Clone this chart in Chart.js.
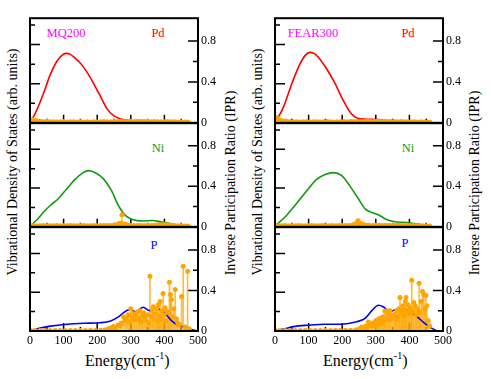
<!DOCTYPE html>
<html>
<head>
<meta charset="utf-8">
<script src="https://cdn.jsdelivr.net/npm/chart.js@4.4.1/dist/chart.umd.min.js"></script>
<style>
  html, body { margin: 0; padding: 0; background: #fff; }
  #wrap { position: relative; width: 491px; height: 379px; overflow: hidden; font-family: "Liberation Serif", "Times New Roman", serif; }
  canvas { position: absolute; }
  .t { position: absolute; white-space: nowrap; line-height: 1; transform: translate(-50%, -50%); }
  .rot { transform: translate(-50%, -50%) rotate(-90deg); }
  .lab { font-size: 12.5px; }
  .side { font-size: 14px; }
  .en { position: absolute; white-space: nowrap; line-height: 1; font-size: 16px; transform: translateY(-50%); }
  .en sup { font-size: 10px; vertical-align: baseline; position: relative; top: -7px; }
</style>
</head>
<body>
<div id="wrap">
  <div class="t side rot" style="left:13px; top:162px;">Vibrational Density of States (arb. units)</div>
  <div class="t side rot" style="left:231px; top:183px;">Inverse Participation Ratio (IPR)</div>
  <div class="t side rot" style="left:258px; top:162px;">Vibrational Density of States (arb. units)</div>
  <div class="t side rot" style="left:475px; top:183px;">Inverse Participation Ratio (IPR)</div>

  <div class="t lab" style="left:66px; top:33px; color:#ff00ff;">MQ200</div>
  <div class="t lab" style="left:158px; top:33px; color:#ff0000;">Pd</div>
  <div class="t lab" style="left:158px; top:148px; color:#129a12;">Ni</div>
  <div class="t lab" style="left:154px; top:245px; color:#0000ff;">P</div>

  <div class="t lab" style="left:313px; top:33px; color:#ff00ff;">FEAR300</div>
  <div class="t lab" style="left:408px; top:33px; color:#ff0000;">Pd</div>
  <div class="t lab" style="left:408px; top:148px; color:#129a12;">Ni</div>
  <div class="t lab" style="left:405px; top:243px; color:#0000ff;">P</div>

  <div class="en" style="left:85px; top:361px;">Energy(cm<sup>-1</sup>)</div>
  <div class="en" style="left:323px; top:361px;">Energy(cm<sup>-1</sup>)</div>
</div>
<script>
//AXIS TICKS
const energyTicks = [0, 100, 200, 300, 400, 500];
const energyMinor = [50, 150, 250, 350, 450];
const iprTicks = [0, 0.4, 0.8];
const iprMinor = [0.2, 0.6];
const vdosMajor = [0.4, 0.8];
const vdosMinor = [0.2, 0.6, 1.0];

//VDOS CURVES [energy, value]
const vdosPdMQ = [[0,0.02],[10,0.06],[20,0.13],[40,0.30],[60,0.49],[80,0.63],[95,0.69],[107,0.71],[120,0.70],[132,0.67],[155,0.59],[180,0.46],[205,0.30],[230,0.14],[250,0.07],[275,0.035],[305,0.02],[335,0.02],[360,0.01],[400,0.005],[440,0.003],[470,0]];
const vdosNiMQ = [[0,0.005],[20,0.07],[40,0.15],[60,0.22],[84,0.29],[109,0.39],[134,0.49],[154,0.55],[174,0.58],[196,0.555],[220,0.49],[243,0.37],[263,0.22],[283,0.12],[305,0.075],[335,0.06],[365,0.065],[390,0.05],[417,0.035],[437,0.015],[455,0.003],[470,0]];
const vdosPMQ = [[0,0],[30,0.03],[60,0.05],[110,0.07],[160,0.08],[208,0.085],[238,0.1],[263,0.145],[283,0.2],[296,0.22],[315,0.2],[337,0.245],[355,0.21],[375,0.235],[400,0.19],[420,0.11],[441,0.06],[461,0.04],[486,0.01],[500,0]];

const vdosPdFE = [[0,0.01],[12,0.07],[25,0.16],[50,0.40],[74,0.60],[90,0.69],[104,0.72],[116,0.71],[129,0.67],[154,0.55],[179,0.40],[203,0.23],[228,0.09],[253,0.04],[280,0.035],[305,0.033],[342,0.02],[380,0.01],[420,0.005],[460,0]];
const vdosNiFE = [[0,0.005],[35,0.12],[64,0.24],[94,0.37],[124,0.49],[149,0.54],[174,0.56],[198,0.53],[223,0.42],[248,0.29],[270,0.18],[290,0.145],[310,0.12],[332,0.075],[362,0.05],[392,0.045],[422,0.03],[451,0.01],[465,0]];
const vdosPFE = [[0,0],[25,0.02],[55,0.045],[99,0.06],[149,0.07],[198,0.07],[243,0.095],[268,0.13],[288,0.21],[308,0.265],[322,0.25],[342,0.2],[367,0.23],[392,0.22],[422,0.15],[442,0.09],[466,0.03],[481,0]];

//IPR STEMS [energy, ipr]
const iprPdMQ = [[3,0.02],[8,0.03],[13,0.025],[19,0.02],[26,0.015],[34,0.012],[42,0.01],[51,0.012],[60,0.01],[70,0.011],[80,0.009],[90,0.01],[100,0.012],[110,0.009],[120,0.01],[130,0.011],[140,0.009],[150,0.01],[160,0.008],[170,0.01],[180,0.009],[190,0.011],[200,0.009],[210,0.01],[220,0.012],[230,0.01],[240,0.011],[250,0.013],[260,0.012],[270,0.014],[280,0.012],[290,0.011],[300,0.013],[310,0.012],[320,0.014],[330,0.016],[340,0.013],[350,0.012],[360,0.011],[370,0.012],[380,0.01],[390,0.011],[400,0.01],[410,0.012],[420,0.01],[430,0.011],[440,0.009],[450,0.008],[460,0.009],[470,0.007]];
const iprNiMQ = [[3,0.012],[10,0.01],[20,0.011],[30,0.01],[40,0.012],[50,0.01],[60,0.011],[70,0.01],[80,0.012],[90,0.01],[100,0.011],[110,0.01],[120,0.012],[130,0.01],[140,0.011],[150,0.01],[160,0.012],[170,0.011],[180,0.01],[190,0.012],[200,0.011],[210,0.013],[220,0.012],[230,0.014],[240,0.013],[250,0.016],[258,0.02],[264,0.03],[270,0.035],[274,0.12],[279,0.03],[285,0.025],[292,0.015],[300,0.013],[310,0.012],[320,0.014],[330,0.013],[340,0.012],[350,0.014],[360,0.013],[370,0.016],[380,0.02],[390,0.018],[400,0.022],[410,0.017],[420,0.015],[430,0.012],[440,0.01],[450,0.011],[460,0.009],[470,0.008]];
const iprPMQ = [[2,0.005],[15,0.005],[30,0.005],[45,0.005],[60,0.006],[75,0.005],[90,0.006],[105,0.005],[120,0.006],[135,0.005],[150,0.006],[165,0.006],[180,0.007],[195,0.006],[210,0.008],[222,0.01],[232,0.02],[240,0.03],[248,0.045],[255,0.03],[262,0.06],[268,0.05],[272,0.08],[278,0.14],[283,0.1],[288,0.12],[292,0.16],[296,0.09],[300,0.22],[304,0.13],[308,0.17],[312,0.11],[316,0.15],[320,0.19],[324,0.12],[327,0.2],[331,0.09],[334,0.15],[338,0.18],[342,0.13],[346,0.1],[350,0.16],[354,0.08],[357,0.54],[360,0.14],[364,0.2],[367,0.24],[370,0.12],[374,0.17],[377,0.22],[380,0.1],[382,0.26],[385,0.15],[387,0.29],[390,0.12],[393,0.2],[396,0.37],[399,0.16],[402,0.23],[405,0.1],[409,0.19],[412,0.18],[415,0.48],[418,0.36],[421,0.31],[424,0.14],[428,0.22],[432,0.41],[436,0.12],[440,0.08],[445,0.06],[451,0.34],[456,0.64],[461,0.04],[465,0.03],[469,0.59],[474,0.02]];

const iprPdFE = [[1,0.04],[5,0.05],[9,0.035],[14,0.025],[20,0.02],[28,0.015],[36,0.012],[45,0.01],[55,0.011],[65,0.01],[75,0.009],[85,0.011],[95,0.01],[105,0.009],[115,0.01],[125,0.011],[135,0.009],[145,0.01],[155,0.012],[165,0.01],[175,0.009],[185,0.011],[195,0.01],[205,0.012],[215,0.011],[225,0.013],[235,0.012],[245,0.014],[255,0.013],[265,0.012],[275,0.014],[285,0.013],[295,0.012],[305,0.014],[315,0.013],[325,0.015],[335,0.013],[345,0.012],[355,0.013],[365,0.011],[375,0.012],[385,0.011],[395,0.01],[405,0.011],[415,0.01],[425,0.009],[435,0.01],[445,0.008],[455,0.008],[461,0.006]];
const iprNiFE = [[2,0.012],[10,0.011],[20,0.01],[30,0.012],[40,0.01],[50,0.011],[60,0.01],[70,0.012],[80,0.01],[90,0.011],[100,0.01],[110,0.012],[120,0.011],[130,0.01],[140,0.012],[150,0.011],[160,0.01],[170,0.012],[180,0.011],[190,0.012],[200,0.013],[210,0.012],[220,0.014],[230,0.018],[237,0.025],[242,0.035],[247,0.06],[252,0.04],[258,0.03],[265,0.02],[272,0.016],[280,0.015],[290,0.014],[300,0.016],[310,0.015],[320,0.014],[330,0.016],[340,0.015],[350,0.014],[360,0.016],[370,0.015],[380,0.014],[390,0.016],[400,0.014],[410,0.013],[420,0.012],[430,0.011],[440,0.01],[450,0.009],[460,0.008]];
const iprPFE = [[2,0.005],[15,0.005],[30,0.005],[45,0.005],[60,0.006],[75,0.005],[90,0.006],[105,0.005],[120,0.006],[135,0.005],[150,0.006],[165,0.006],[180,0.007],[195,0.006],[210,0.007],[225,0.008],[240,0.01],[250,0.02],[258,0.04],[265,0.03],[270,0.05],[275,0.04],[278,0.09],[283,0.06],[288,0.05],[292,0.08],[296,0.06],[300,0.1],[302,0.09],[306,0.07],[309,0.12],[312,0.11],[315,0.08],[318,0.13],[322,0.14],[325,0.1],[327,0.195],[330,0.12],[333,0.2],[337,0.17],[340,0.11],[342,0.2],[346,0.15],[350,0.13],[354,0.16],[357,0.16],[360,0.12],[362,0.2],[366,0.14],[369,0.22],[372,0.33],[375,0.18],[378,0.21],[380,0.25],[383,0.15],[386,0.2],[388,0.29],[390,0.33],[393,0.19],[396,0.26],[399,0.17],[402,0.23],[405,0.21],[407,0.5],[410,0.19],[413,0.28],[417,0.25],[420,0.16],[423,0.22],[426,0.2],[429,0.47],[432,0.18],[435,0.29],[439,0.39],[443,0.36],[446,0.22],[449,0.35],[452,0.25],[456,0.1],[460,0.05]];

//LAYOUT
const plotLefts = [30, 275];
const plotTops = [18, 123, 227];
const plotHeights = [105, 104, 104];
const plotWidth = 168;
const PAD = 10, RIGHT_W = 30, X_H = 18;

const ORANGE = '#ffa500';
const FONT = { family: '"Liberation Serif", "Times New Roman", serif', size: 12 };

const pts = arr => arr.map(([x, y]) => ({ x, y }));

//FRAME AND INWARD TICKS
const framePlugin = {
  id: 'frame',
  beforeDatasetsDraw(chart) {
    const { ctx, chartArea: a, scales } = chart;
    ctx.save();
    ctx.strokeStyle = '#000';
    ctx.lineWidth = 1.5;
    ctx.beginPath();
    const seg = (x1, y1, x2, y2) => { ctx.moveTo(x1, y1); ctx.lineTo(x2, y2); };
    energyTicks.slice(1, -1).forEach(v => { const x = scales.x.getPixelForValue(v); seg(x, a.bottom, x, a.bottom - 8); });
    energyMinor.forEach(v => { const x = scales.x.getPixelForValue(v); seg(x, a.bottom, x, a.bottom - 4); });
    vdosMajor.forEach(v => { const y = scales.y.getPixelForValue(v); seg(a.left, y, a.left + 10, y); });
    vdosMinor.forEach(v => { const y = scales.y.getPixelForValue(v); seg(a.left, y, a.left + 5, y); });
    iprTicks.forEach(v => { const y = scales.y2.getPixelForValue(v); seg(a.right, y, a.right - 10, y); });
    iprMinor.forEach(v => { const y = scales.y2.getPixelForValue(v); seg(a.right, y, a.right - 5, y); });
    ctx.stroke();
    ctx.restore();
  },
  afterDatasetsDraw(chart) {
    const { ctx, chartArea: a } = chart;
    ctx.save();
    ctx.strokeStyle = '#000';
    ctx.lineWidth = 2;
    ctx.strokeRect(a.left, a.top, a.right - a.left, a.bottom - a.top);
    ctx.restore();
  }
};

const wrap = document.getElementById('wrap');

function makeChart(panelIdx, rowIdx, vdos, ipr, color) {
  const isBottom = rowIdx === 2;
  const c = document.createElement('canvas');
  c.width = PAD + plotWidth + RIGHT_W;
  c.height = PAD + plotHeights[rowIdx] + PAD + (isBottom ? X_H : 0);
  c.style.left = (plotLefts[panelIdx] - PAD) + 'px';
  c.style.top = (plotTops[rowIdx] - PAD) + 'px';
  wrap.appendChild(c);

  return new Chart(c, {
    type: 'bar',
    data: {
      datasets: [
        {
          type: 'line',
          data: pts(ipr),
          yAxisID: 'y2',
          showLine: false,
          pointRadius: 2.5,
          pointBorderWidth: 0,
          pointBackgroundColor: ORANGE
        },
        {
          type: 'line',
          data: pts(vdos),
          yAxisID: 'y',
          borderColor: color,
          borderWidth: 1.6,
          pointRadius: 0,
          fill: false,
          cubicInterpolationMode: 'monotone'
        },
        {
          type: 'bar',
          data: pts(ipr),
          yAxisID: 'y2',
          backgroundColor: 'rgba(255,165,0,0.75)',
          barThickness: 1,
          borderWidth: 0
        }
      ]
    },
    options: {
      responsive: false,
      animation: false,
      events: [],
      layout: { padding: { left: PAD, top: PAD, right: 0, bottom: PAD } },
      plugins: { legend: { display: false }, tooltip: { enabled: false } },
      scales: {
        x: {
          type: 'linear',
          min: 0,
          max: 500,
          offset: false,
          display: isBottom,
          grid: { display: false, drawTicks: false },
          border: { display: false },
          ticks: { font: FONT, color: '#000', padding: 3, maxRotation: 0, autoSkip: false },
          afterBuildTicks: s => { s.ticks = energyTicks.map(v => ({ value: v })); },
          afterFit: s => { s.height = isBottom ? X_H : 0; }
        },
        y: {
          type: 'linear',
          position: 'left',
          min: 0,
          max: 1.07,
          display: false
        },
        y2: {
          type: 'linear',
          position: 'right',
          min: 0,
          max: 1.024,
          grid: { display: false, drawTicks: false },
          border: { display: false },
          ticks: { font: FONT, color: '#000', padding: 3, callback: v => String(+v.toFixed(1)) },
          afterBuildTicks: s => { s.ticks = iprTicks.map(v => ({ value: v })); },
          afterFit: s => { s.width = RIGHT_W; }
        }
      }
    },
    plugins: [framePlugin]
  });
}

//MQ200
makeChart(0, 0, vdosPdMQ, iprPdMQ, '#ff0000');
makeChart(0, 1, vdosNiMQ, iprNiMQ, '#129a12');
makeChart(0, 2, vdosPMQ, iprPMQ, '#0000ff');

//FEAR300
makeChart(1, 0, vdosPdFE, iprPdFE, '#ff0000');
makeChart(1, 1, vdosNiFE, iprNiFE, '#129a12');
makeChart(1, 2, vdosPFE, iprPFE, '#0000ff');
</script>
</body>
</html>
